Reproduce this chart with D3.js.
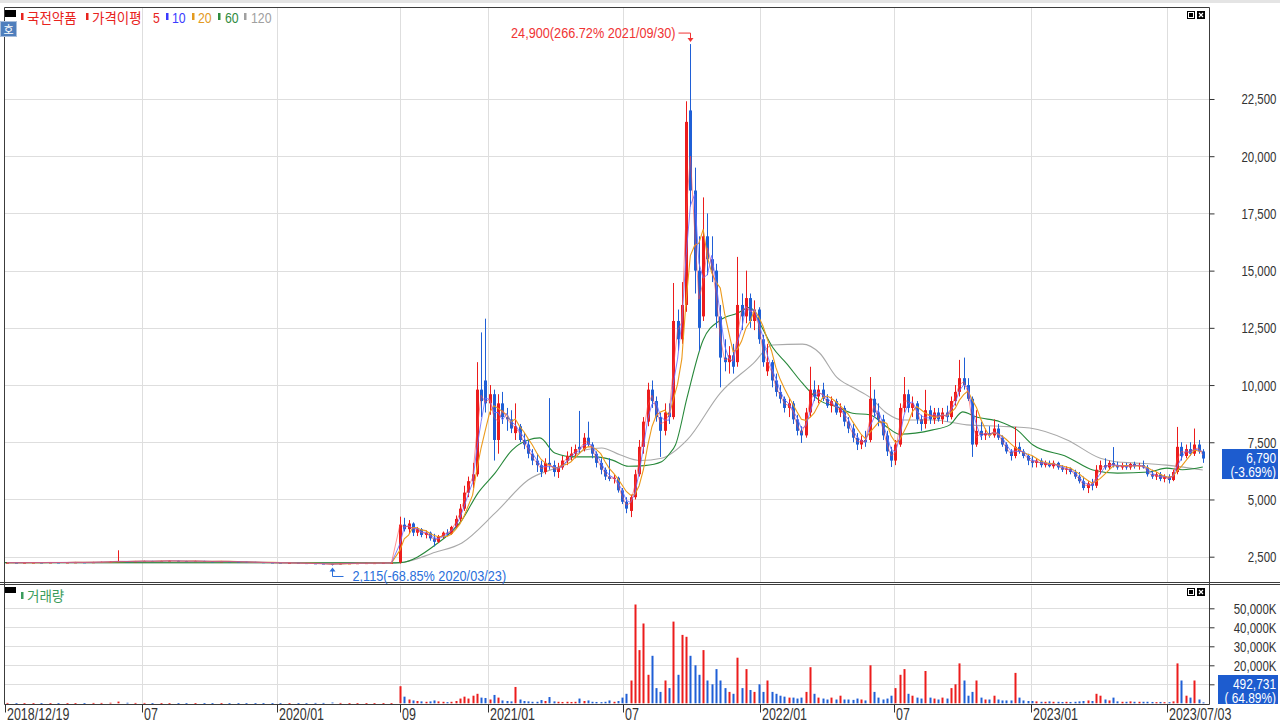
<!DOCTYPE html>
<html><head><meta charset="utf-8">
<script src="https://cdn.jsdelivr.net/npm/d3@7"></script>
<style>
body{margin:0;background:#fff;}
svg{display:block;}
.kr{font-family:"Noto Sans CJK KR","Noto Sans",sans-serif;}
</style></head>
<body><svg id="c" width="1280" height="725"></svg>
<script>
// ---------- DATA ----------
const stockName = "국전약품";
const tickLabels = ["2018/12/19","07","2020/01","09","2021/01","07","2022/01","07","2023/01","2023/07/03"];
const tickDays   = [0,128,255,370,452,579,707,833,961,1088];
const priceTicks = [2500,5000,7500,10000,12500,15000,17500,20000,22500];
const volTicks   = [10,20,30,40,50]; // millions of shares

// SPAC period (flat), one candle per 8 trading days
const flatDays  = d3.range(2, 366, 8);
const flatOpen  = [2235,2240,2235,2240,2245,2240,2250,2245,2250,2255,2250,2260,2270,2280,2300,2290,2300,2310,2300,2310,2320,2310,2300,2310,2300,2290,2300,2290,2280,2270,2260,2250,2240,2230,2230,2220,2210,2200,2190,2170,2200,2210,2215,2220,2220,2225];
const flatHigh  = [2255,2250,2255,2260,2255,2265,2260,2265,2270,2265,2275,2285,2295,2780,2310,2315,2325,2320,2325,2335,2330,2320,2325,2320,2310,2315,2305,2295,2285,2275,2265,2255,2245,2245,2235,2225,2215,2205,2200,2215,2225,2230,2235,2235,2240,2245];
const flatLow   = [2225,2225,2225,2230,2230,2235,2235,2240,2240,2240,2245,2255,2265,2275,2280,2285,2290,2295,2295,2300,2300,2295,2295,2295,2285,2285,2280,2275,2265,2255,2245,2235,2225,2220,2215,2205,2195,2180,2115,2165,2195,2205,2210,2215,2215,2220];
const flatClose = [2240,2235,2240,2245,2240,2250,2245,2250,2255,2250,2260,2270,2280,2300,2290,2300,2310,2300,2310,2320,2310,2300,2310,2300,2290,2300,2290,2280,2270,2260,2250,2240,2230,2230,2220,2210,2200,2190,2170,2200,2210,2215,2220,2220,2225,2230];
const flatVolume= [0.2,0.1,0.1,0.15,0.1,0.1,0.1,0.15,0.1,0.1,0.2,0.2,0.3,0.9,0.3,0.2,0.2,0.15,0.1,0.15,0.1,0.1,0.1,0.1,0.1,0.1,0.1,0.1,0.1,0.1,0.15,0.1,0.1,0.1,0.1,0.15,0.2,0.2,0.4,0.2,0.1,0.1,0.1,0.1,0.1,0.1];

// listed period, one candle per 4 trading days
const activeDays = d3.range(370, 1123, 4);
const open = [2250,3900,3700,3950,3550,3700,3450,3550,3300,3150,
3400,3550,3500,3800,4150,4600,5300,5800,6100,9800,
10200,9200,9600,7600,9200,8600,8500,7900,8200,7600,
7400,7000,6700,6500,6200,6600,6500,6200,6400,6700,
6900,7000,7300,7200,7700,7400,7000,6600,6300,6000,
5900,5950,5400,4900,4500,5100,6100,7300,8400,9800,
9300,8600,8000,8800,8600,12800,12000,13500,22000,18500,
15000,13000,16500,15500,15000,13000,11200,11000,11300,11000,
13500,13000,13800,12800,13300,12000,10600,11000,10200,9700,
9400,9000,9200,8500,8000,7800,8800,9800,9500,9800,
9400,9100,9300,8800,9000,8400,8100,7700,7400,7600,
7600,9400,8800,8500,7800,7100,6700,7400,9000,9600,
9000,9200,8500,8300,8900,8500,8800,8500,8800,8600,
9300,9700,10300,10000,9400,7400,8000,7800,7900,7800,
8100,7700,7400,7100,6900,7300,7100,6900,6700,6600,
6700,6500,6600,6450,6600,6400,6300,6350,6200,6000,
5800,5500,5700,5600,6300,6500,6400,6600,6500,6400,
6500,6400,6550,6450,6500,6400,6100,6000,6100,5900,
6000,5850,6200,7300,6900,7200,7000,7400,7100];
const high = [4250,4200,4100,4000,3800,3750,3650,3600,3500,3450,
3600,3700,3850,4300,4800,5600,6000,6600,11000,12300,
12900,10000,9800,9600,9700,9000,8900,9200,8300,7900,
7600,7200,7000,6700,6800,9430,6700,6600,6900,7100,
7300,7400,8870,7900,8400,7500,7100,6800,6400,6800,
6100,6000,5500,5100,5200,6300,7600,8600,10100,10200,
9500,8800,9200,9200,14460,13300,14500,22400,24900,19500,
16500,18200,17500,16500,15300,13500,12000,11700,11800,15600,
14000,15000,14000,13700,13400,12200,11800,11100,10500,10000,
9500,9400,9300,8700,8200,9000,10800,10200,10000,10100,
9600,9500,9400,9200,9100,8600,8300,7900,7800,8000,
10350,9800,9200,8700,8000,7300,7600,9200,10350,9800,
9500,9300,8700,9790,9100,9000,9000,9000,9100,9500,
10000,11100,11200,10300,9500,8900,8400,8100,8200,8500,
8300,7800,7500,7200,8170,7500,7200,7000,6900,6800,
6800,6700,6700,6700,6650,6500,6450,6400,6300,6200,
6000,5800,5900,6500,6700,6800,6700,7290,6650,6600,
6600,6600,6650,6600,6700,6500,6300,6200,6200,6100,
6100,6300,8170,7500,7400,7500,8100,7600,7200];
const low = [2200,3600,3500,3400,3400,3350,3300,3200,2950,3100,
3300,3400,3450,3750,4050,4500,5100,5500,6000,8600,
8800,8700,6700,7000,8300,8000,7900,7600,7500,7200,
6800,6500,6200,5980,6100,6300,6000,5940,6300,6500,
6700,6800,7000,7100,7300,6800,6400,6100,5850,5800,
5700,5300,4800,4400,4230,5000,6000,7000,8200,9000,
8400,6860,7800,8300,8500,11500,11800,13200,17800,14000,
11500,12800,14800,14500,12500,9900,10600,10500,10500,10800,
12400,12700,12500,12400,11800,10800,10400,9900,9500,9200,
8800,8600,8300,7800,7470,7700,8600,9300,9200,9300,
9000,8800,8700,8600,8200,7900,7500,7160,7200,7300,
7500,8600,8200,7600,6900,6420,6500,7300,8800,8800,
8600,8300,8000,8100,8300,8300,8400,8300,8400,8500,
9100,9500,9800,9300,6860,7300,7600,7600,7700,7700,
7600,7300,7000,6700,6800,7000,6800,6500,6400,6400,
6400,6400,6400,6350,6300,6200,6100,6100,5900,5700,
5400,5280,5400,5500,6100,6300,6300,6400,6300,6300,
6300,6300,6350,6300,6350,6000,5900,5850,5800,5750,
5700,5800,6100,6700,6800,6900,6900,7000,6600];
const close = [3900,3700,3950,3550,3700,3450,3550,3300,3150,3400,
3550,3500,3800,4150,4600,5300,5800,6100,9800,9300,
9200,9600,7600,9200,8600,8500,8100,8200,7600,7400,
7000,6700,6500,6200,6600,6500,6200,6400,6700,6900,
7000,7200,7200,7700,7400,7000,6600,6300,6000,5900,
5950,5400,4900,4600,5100,6100,7300,8400,9800,9300,
8600,8000,8800,8600,12800,12000,13500,21500,18500,15000,
12500,16500,15500,15000,13000,11200,11000,11300,10800,13500,
13000,13800,12800,13300,12000,11000,11000,10200,9700,9400,
9000,9200,8500,8000,7800,8800,9800,9500,9800,9400,
9100,9300,8800,9000,8400,8100,7700,7400,7600,7500,
9400,8800,8500,7800,7100,6700,7400,9000,9600,9000,
9200,8500,8300,8900,8500,8800,8500,8800,8600,9300,
9700,10300,10000,9400,7400,8000,7800,7900,7800,8100,
7700,7400,7100,6900,7300,7100,6900,6700,6600,6700,
6500,6600,6450,6600,6400,6300,6350,6200,6000,5800,
5500,5700,5600,6300,6500,6400,6600,6500,6400,6500,
6400,6550,6450,6500,6400,6100,6000,6100,5900,6000,
5850,6200,7300,6900,7200,7000,7400,7100,6790];
const volume = [9,3.5,2,1.5,1.2,1,0.8,1,1.5,1,
0.8,0.6,0.8,1.2,2.5,3.5,2.5,4,5,3,
2.8,2,4.4,3,1.5,1.2,1,8.6,2,1.2,
1,0.8,0.8,1.7,1.2,3.3,1,0.8,0.7,0.8,
0.7,0.8,2.5,1.2,1.5,0.8,0.7,0.6,0.8,1.5,
0.8,1.2,3,5,12,52,28,42,15,25,
8,6,12,8,43,15,36,35,25,20,
15,28,12,10,18,12,8,6,5,24,
8,18,7,6,10,6,12,6,5,4,
3.5,3,3,2.5,3,6,19,5,3,2.5,
2,3,2,4,2,2,1.8,2.5,2,1.5,
20,6,3,2,2.5,4,8,15,18,5,
4,3,2.5,17,3,2.5,2,3,2.5,8,
10,21,12,4,6,12,3,2,2,4,
2,1.5,1.5,1.5,16,3,1.5,1.2,1.2,1,
0.8,0.8,1,0.8,0.8,0.7,0.8,0.7,0.8,1,
1.2,1.5,1.2,5,4,2,1.5,3,1,0.8,
0.8,1,0.8,0.8,0.8,0.8,0.7,0.6,0.7,0.6,
0.6,1,21,12,4,3,12,2,0.49];

// 60- and 120-day averages (trading-day index, price)
const ma60Days  = [0,361,370,403,428,443,459,475,490,501,515,534,553,569,584,599,615,623,628,639,654,670,686,698,707,719,732,747,763,779,794,810,826,838,869,885,897,910,932,948,963,995,1019,1042,1072,1088,1103,1122];
const ma60Vals  = [2240,2230,2240,3010,4100,5280,6150,7160,7600,7690,7030,6860,6860,6720,6450,6480,6650,7030,7380,9470,11970,12840,13140,13400,12700,11650,10950,10080,9330,9050,8770,8700,8170,7850,8040,8260,8830,8600,8400,8040,7380,6860,6290,6150,6200,6370,6300,6420];
const ma120Days = [0,361,370,403,428,459,490,522,543,559,576,595,615,639,670,701,719,747,763,779,794,810,826,841,869,901,932,960,995,1026,1042,1057,1088,1122];
const ma120Vals = [2240,2230,2240,2690,3100,4400,5850,6510,7160,7250,6950,6700,6800,7600,9650,10950,11750,11790,11400,10350,9900,9470,8770,8470,8470,8260,8200,8120,7600,6800,6640,6600,6500,6290];

const maxDate = "2021/09/30", minDate = "2020/03/23";
const lastChange = "-3.69%", lastVolume = 492731, volChange = "64.89%";

// ---------- BUILD ----------
const candles = [];
flatDays.forEach((d,i)=>candles.push({d, o:flatOpen[i], h:flatHigh[i], l:flatLow[i], c:flatClose[i], v:flatVolume[i]}));
activeDays.forEach((d,i)=>candles.push({d, o:open[i], h:high[i], l:low[i], c:close[i], v:volume[i]}));

function movingAvg(w){
  return candles.map((c,i)=>{
    const win = candles.filter((e,j)=>j<=i && c.d - e.d < w);
    return {d:c.d, v:d3.mean(win, e=>e.c)};
  });
}

const svg = d3.select("#c");
const L=4.5, R=1209.5, T=7.5, B=582.5, VT=585.5, VB=704.5;
const x  = d3.scaleLinear().domain([0,1125]).range([5,1206]);
const y  = d3.scaleLinear().domain([1394,26476]).range([582,8]);
const yv = d3.scaleLinear().domain([0,62]).range([703.3,585.5]);

const RED="#ec1c1c", BLUE="#1f5fd6";
const col = c => c.c >= c.o ? RED : BLUE;
const NF = '"Liberation Sans",Arial,sans-serif';
const SX = 0.82;
function ntext(g, xx, yy, str, size, anchor, fill, sx){
  return g.append("text").attr("transform",`translate(${xx},${yy}) scale(${sx||SX},1)`)
    .attr("font-family",NF).attr("font-size",size).attr("text-anchor",anchor||"start")
    .attr("fill",fill).text(str);
}

svg.append("rect").attr("x",0).attr("y",0).attr("width",1280).attr("height",3).attr("fill","#e4e4e4");

const defs = svg.append("defs");
defs.append("clipPath").attr("id","cpMain").append("rect").attr("x",L).attr("y",T).attr("width",R-L).attr("height",B-T);
defs.append("clipPath").attr("id","cpVol").append("rect").attr("x",L).attr("y",VT).attr("width",R-L).attr("height",VB-VT);

// grids
const grid = svg.append("g").attr("stroke","#dedede").attr("stroke-width",1);
grid.selectAll(".hg").data(priceTicks).join("line")
  .attr("x1",L).attr("x2",R).attr("y1",d=>Math.round(y(d))+0.5).attr("y2",d=>Math.round(y(d))+0.5);
grid.selectAll(".vg").data(volTicks).join("line")
  .attr("x1",L).attr("x2",R).attr("y1",d=>Math.round(yv(d))+0.5).attr("y2",d=>Math.round(yv(d))+0.5);
tickDays.slice(1).forEach(d=>{
  const xx = Math.round(x(d))+0.5;
  grid.append("line").attr("x1",xx).attr("x2",xx).attr("y1",T).attr("y2",B);
  grid.append("line").attr("x1",xx).attr("x2",xx).attr("y1",VT).attr("y2",VB);
});

// main panel
const gm = svg.append("g").attr("clip-path","url(#cpMain)");
const line = d3.line().x(d=>x(d.d)).y(d=>y(d.v));
const ma120 = ma120Days.map((d,i)=>({d, v:ma120Vals[i]}));
const ma60  = ma60Days.map((d,i)=>({d, v:ma60Vals[i]}));
gm.append("path").datum(ma120).attr("d",line.curve(d3.curveMonotoneX)).attr("fill","none").attr("stroke","#a9a9a9").attr("stroke-width",1.1);
gm.append("path").datum(ma60).attr("d",line.curve(d3.curveMonotoneX)).attr("fill","none").attr("stroke","#27883a").attr("stroke-width",1.1);

const cg = gm.append("g");
candles.forEach(c=>{
  const cx = Math.round(x(c.d));
  cg.append("line").attr("x1",cx+0.5).attr("x2",cx+0.5).attr("y1",y(c.h)).attr("y2",y(c.l)).attr("stroke",col(c)).attr("stroke-width",1);
  const top = y(Math.max(c.o,c.c)), bot = y(Math.min(c.o,c.c));
  cg.append("rect").attr("x",cx-1).attr("width",3).attr("y",top).attr("height",Math.max(1,bot-top)).attr("fill",col(c));
});

const lineL = d3.line().x(d=>x(d.d)).y(d=>y(d.v));
gm.append("path").datum(movingAvg(20)).attr("d",lineL).attr("fill","none").attr("stroke","#ec9a1c").attr("stroke-width",1.1);
gm.append("path").datum(movingAvg(10)).attr("d",lineL).attr("fill","none").attr("stroke","#6b6bff").attr("stroke-width",1).attr("opacity",0.85);
gm.append("path").datum(movingAvg(5)).attr("d",lineL).attr("fill","none").attr("stroke","#ff4a4a").attr("stroke-width",1).attr("opacity",0.6);

// volume
const gv = svg.append("g").attr("clip-path","url(#cpVol)");
candles.forEach(c=>{
  const cx = Math.round(x(c.d));
  gv.append("rect").attr("x",cx-0.5).attr("width",2).attr("y",yv(c.v)).attr("height",Math.max(0.8,yv(0)-yv(c.v))).attr("fill",col(c));
});

// frames
const fr = svg.append("g").attr("fill","none").attr("stroke","#3c3c3c").attr("stroke-width",1);
fr.append("line").attr("x1",L).attr("x2",L).attr("y1",T).attr("y2",VB);
fr.append("line").attr("x1",R).attr("x2",R).attr("y1",T).attr("y2",VB);
fr.append("line").attr("x1",L).attr("x2",R).attr("y1",T).attr("y2",T);
fr.append("line").attr("x1",0).attr("x2",1280).attr("y1",B).attr("y2",B);
fr.append("line").attr("x1",0).attr("x2",1280).attr("y1",VT-1).attr("y2",VT-1);
fr.append("line").attr("x1",L).attr("x2",R).attr("y1",VB).attr("y2",VB);

// right axes (10,000K label sits under the volume value box, as in the original)
const fmt = d3.format(",");
const ay = svg.append("g").attr("transform",`translate(${R},0)`)
  .call(d3.axisRight(y).tickValues(priceTicks).tickFormat(fmt).tickSize(5));
const av = svg.append("g").attr("transform",`translate(${R},0)`)
  .call(d3.axisRight(yv).tickValues(volTicks).tickFormat(d=>d===10?"":fmt(d*1000)+"K").tickSize(5));
[ay,av].forEach(a=>{
  a.select(".domain").remove();
  a.selectAll(".tick line").attr("stroke","#333");
  a.selectAll(".tick text").attr("x",null).attr("dy",null)
    .attr("transform",`translate(67,5) scale(${SX},1)`).attr("text-anchor","end")
    .attr("font-family",NF).attr("font-size",14).attr("fill","#333");
});

// bottom axis
const ax = svg.append("g");
tickDays.forEach((d,i)=>{
  const xx = Math.round(x(d))+0.5;
  ax.append("line").attr("x1",xx).attr("x2",xx).attr("y1",VB).attr("y2",VB+8).attr("stroke","#333");
  ntext(ax, xx+1.5, 719.5, tickLabels[i], 16, "start", "#333", 0.78);
});

// legend
const lg = svg.append("g");
lg.append("rect").attr("x",5).attr("y",10).attr("width",11).attr("height",7).attr("fill","#000");
const leg = [
  {bar:"#e8231d", t:stockName, c:"#e8231d", bx:21, tx:27, kr:true},
  {bar:"#e8231d", t:"가격이평", c:"#e8231d", bx:86, tx:92, kr:true},
  {bar:null, t:"5", c:"#e8231d", tx:153},
  {bar:"#3b3bff", t:"10", c:"#3b3bff", bx:166, tx:172},
  {bar:"#e39a1e", t:"20", c:"#e39a1e", bx:192, tx:198},
  {bar:"#2e8b3e", t:"60", c:"#2e8b3e", bx:218, tx:225},
  {bar:"#a0a0a0", t:"120", c:"#a0a0a0", bx:244, tx:251}
];
leg.forEach(e=>{
  if(e.bar) lg.append("rect").attr("x",e.bx).attr("y",13).attr("width",2.5).attr("height",7).attr("fill",e.bar);
  if(e.kr) lg.append("text").attr("class","kr").attr("x",e.tx).attr("y",22.5).attr("font-size",13.5).attr("fill",e.c).text(e.t);
  else ntext(lg, e.tx, 22.5, e.t, 15, "start", e.c);
});
lg.append("rect").attr("x",0.5).attr("y",21.5).attr("width",16).attr("height",15).attr("fill","#4f7fbd").attr("stroke","#a9bfdc");
lg.append("text").attr("class","kr").attr("x",8.5).attr("y",33.5).attr("text-anchor","middle").attr("font-size",11).attr("fill","#fff").text("호");

// volume legend
lg.append("rect").attr("x",5).attr("y",587).attr("width",11).attr("height",6).attr("fill","#000");
lg.append("rect").attr("x",21).attr("y",592).attr("width",2.5).attr("height",7).attr("fill","#3b9c5c");
lg.append("text").attr("class","kr").attr("x",27).attr("y",600.5).attr("font-size",13.5).attr("fill","#3b9c5c").text("거래량");

// window icons
function icons(yy){
  lg.append("rect").attr("x",1187.5).attr("y",yy+0.5).attr("width",7).attr("height",7).attr("fill","#fff").attr("stroke","#000");
  lg.append("rect").attr("x",1189).attr("y",yy+2).attr("width",4).attr("height",4).attr("fill","#000");
  lg.append("rect").attr("x",1197.5).attr("y",yy+0.5).attr("width",7).attr("height",7).attr("fill","#000").attr("stroke","#000");
  lg.append("path").attr("d",`M1199,${yy+2}L1203,${yy+6}M1203,${yy+2}L1199,${yy+6}`).attr("stroke","#fff").attr("stroke-width",1.2);
}
icons(11); icons(588);

// annotations
const last = candles[candles.length-1];
const maxC = candles.reduce((a,b)=>b.h>a.h?b:a);
const minC = candles.reduce((a,b)=>b.l<a.l?b:a);
const pct = v => ((v/last.c-1)*100).toFixed(2)+"%";
const an = svg.append("g");
{
  const mx = Math.round(x(maxC.d))+0.5, my = y(maxC.h);
  an.append("path").attr("d",`M${mx-12},${my-11}H${mx}V${my-4}`).attr("fill","none").attr("stroke","#f03434");
  an.append("path").attr("d",`M${mx-3},${my-6}L${mx+3},${my-6}L${mx},${my-2}Z`).attr("fill","#f03434");
  ntext(an, mx-15, my-6, `${fmt(maxC.h)}(${pct(maxC.h)} ${maxDate})`, 15.5, "end", "#f03434");
}
{
  const mx = Math.round(x(minC.d))+0.5, my = y(minC.l);
  an.append("path").attr("d",`M${mx},${my+5}V${my+11}H${mx+11}`).attr("fill","none").attr("stroke","#2a6fdb");
  an.append("path").attr("d",`M${mx-3},${my+6}L${mx+3},${my+6}L${mx},${my+2}Z`).attr("fill","#2a6fdb");
  ntext(an, mx+20, my+15.5, `${fmt(minC.l)}(${pct(minC.l)} ${minDate})`, 15.5, "start", "#2a6fdb");
}

// value boxes
{
  const ly = y(last.c);
  const vb = svg.append("g");
  vb.append("rect").attr("x",1222).attr("y",ly-9.5).attr("width",56).attr("height",30).attr("fill","#1d5ccf");
  ntext(vb, 1276, ly+4, fmt(last.c), 14, "end", "#fff", 0.85);
  ntext(vb, 1276, ly+18.5, `(${lastChange})`, 14, "end", "#fff", 0.85);
  vb.append("rect").attr("x",1218).attr("y",VB-29.5).attr("width",60).attr("height",29).attr("fill","#1d5ccf");
  ntext(vb, 1276, VB-16, fmt(lastVolume), 14, "end", "#fff", 0.85);
  ntext(vb, 1276, VB-2, `( ${volChange})`, 14, "end", "#fff", 0.85);
}
</script>
</body></html>
